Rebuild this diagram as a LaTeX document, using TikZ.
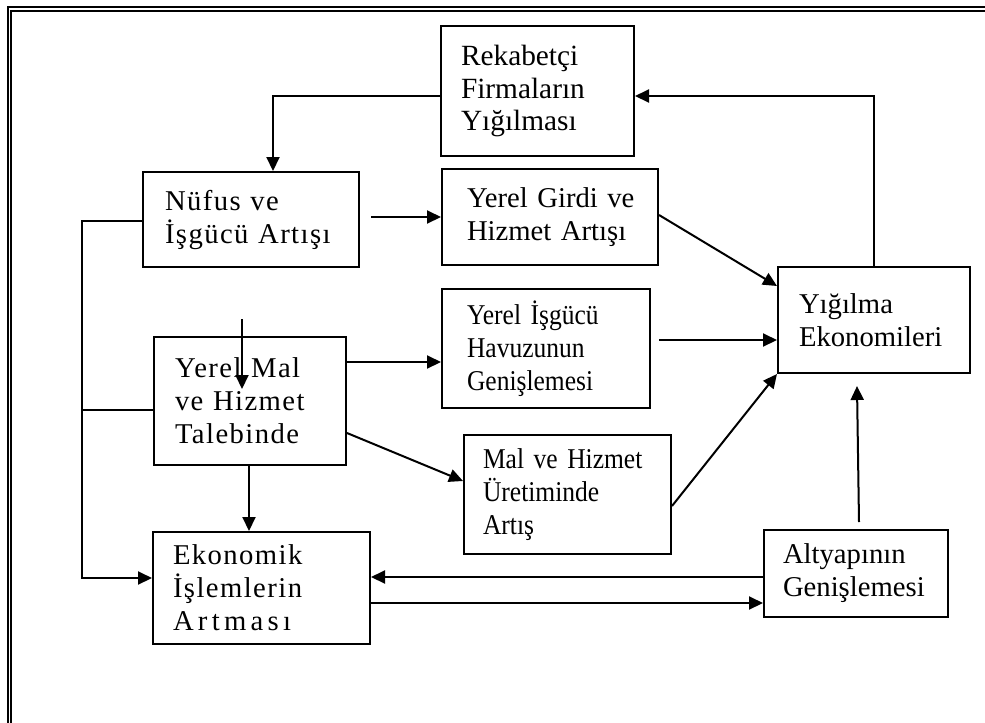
\documentclass[tikz,border=0pt]{standalone}
\usepackage{fontspec}
\setmainfont{Liberation Serif}
\newfontfamily\spacedserif{Liberation Serif}[LetterSpace=5]
\newfontfamily\widespacedserif{Liberation Serif}[LetterSpace=15]
\newfontfamily\narrowserif{Liberation Serif}[FakeStretch=0.89]
\usetikzlibrary{arrows.meta,calc}

\begin{document}
\begin{tikzpicture}[x=0.75pt,y=-0.75pt,
  box/.style={draw,line width=1.5pt,align=left,inner ysep=0pt,anchor=center},
  plainfont/.style={font=\fontsize{21.5}{24.75}\selectfont},
  spacedfont/.style={font=\spacedserif\fontsize{21.5}{24.75}\selectfont},
  narrowfont/.style={font=\narrowserif\fontsize{21.5}{24.75}\selectfont},
  link/.style={line width=1.5pt},
  arr/.style={line width=1.5pt,-{Triangle[length=10.5pt,width=9.75pt]}},
  frameline/.style={line width=1.5pt}]

\useasboundingbox (0,0) rectangle (985,722);

% double page frame, open towards the right and bottom edges
\begin{scope}
  \clip (0,0) rectangle (985,722);
  \draw[frameline] (8,740) -- (8,7) -- (1000,7);
  \draw[frameline] (11,740) -- (11,11) -- (1000,11);
\end{scope}

% boxes
\node[box,font=\fontsize{22}{24.5}\selectfont,text width=114.75pt,inner xsep=15pt,minimum height=97.5pt]
  (reka) at (537.5,91) {Rekabetçi\\Firmaların\\Yığılması};
\node[box,spacedfont,text width=129pt,inner xsep=16.5pt,minimum height=71.25pt]
  (nufus) at (251,219.5) {Nüfus~ve\\İşgücü~Artışı};
\node[box,plainfont,text width=124.5pt,inner xsep=18.75pt,minimum height=72pt]
  (girdi) at (550,217) {Yerel~Girdi~ve\\Hizmet~Artışı};
\node[box,narrowfont,text width=118.5pt,inner xsep=18.75pt,minimum height=89.25pt]
  (isgucu) at (546,348.5) {Yerel~İşgücü\\Havuzunun\\Genişlemesi};
\node[box,spacedfont,text width=112.5pt,inner xsep=15.75pt,minimum height=96pt]
  (yerelmal) at (250,401) {Yerel~Mal\\ve~Hizmet\\Talebinde};
\node[box,narrowfont,text width=126.75pt,inner xsep=14.25pt,minimum height=89.25pt]
  (malhizmet) at (567.5,494.5) {Mal~ve~Hizmet\\Üretiminde\\Artış};
\node[box,spacedfont,text width=132.75pt,inner xsep=15pt,minimum height=84pt]
  (ekonomik) at (261.5,588) {Ekonomik\\İşlemlerin\\{\widespacedserif Artması}};
\node[box,plainfont,text width=112.5pt,inner xsep=15.75pt,minimum height=79.5pt]
  (yigilma) at (874,320) {Yığılma\\Ekonomileri};
\node[box,plainfont,text width=109.5pt,inner xsep=14.25pt,minimum height=65.25pt]
  (altyapi) at (856,573.5) {Altyapının\\Genişlemesi};

% free ends of the short arrow over the demand box
\coordinate (dstart) at (242,319);
\coordinate (dend) at (242,389);

% connectors
\draw[arr] (reka.west |- 0,96) -| (nufus.north -| 273,0);
\draw[arr] ($(nufus.east |- 0,217)+(11,0)$) -- (girdi.west |- 0,217);
\draw[arr] (girdi.east |- 0,215) -- ($(yigilma.north west)+(0,20)$);
\draw[arr] (yigilma.north) |- (reka.east |- 0,96);
\draw[arr] ($(isgucu.east |- 0,340)+(8,0)$) -- (yigilma.west |- 0,340);
\draw[arr] (yerelmal.east |- 0,362) -- (isgucu.west |- 0,362);
\draw[arr] (yerelmal.east |- 0,433) -- (malhizmet.west |- 0,481);
\draw[arr] (malhizmet.east |- 0,506) -- (yigilma.south west);
\draw[arr] (dstart) -- (dend);
\draw[arr] (yerelmal.south -| 249,0) -- (ekonomik.north -| 249,0);
\draw[arr] (nufus.west |- 0,221) -- (82,221) |- (ekonomik.west |- 0,578);
\draw[link] (yerelmal.west |- 0,410) -- (82,410);
\draw[arr] (altyapi.west |- 0,577) -- (ekonomik.east |- 0,577);
\draw[arr] (ekonomik.east |- 0,603) -- (altyapi.west |- 0,603);
\draw[arr] ($(altyapi.north)+(3,-7)$) -- ($(yigilma.south -| altyapi.north)+(1,12)$);

\end{tikzpicture}
\end{document}
